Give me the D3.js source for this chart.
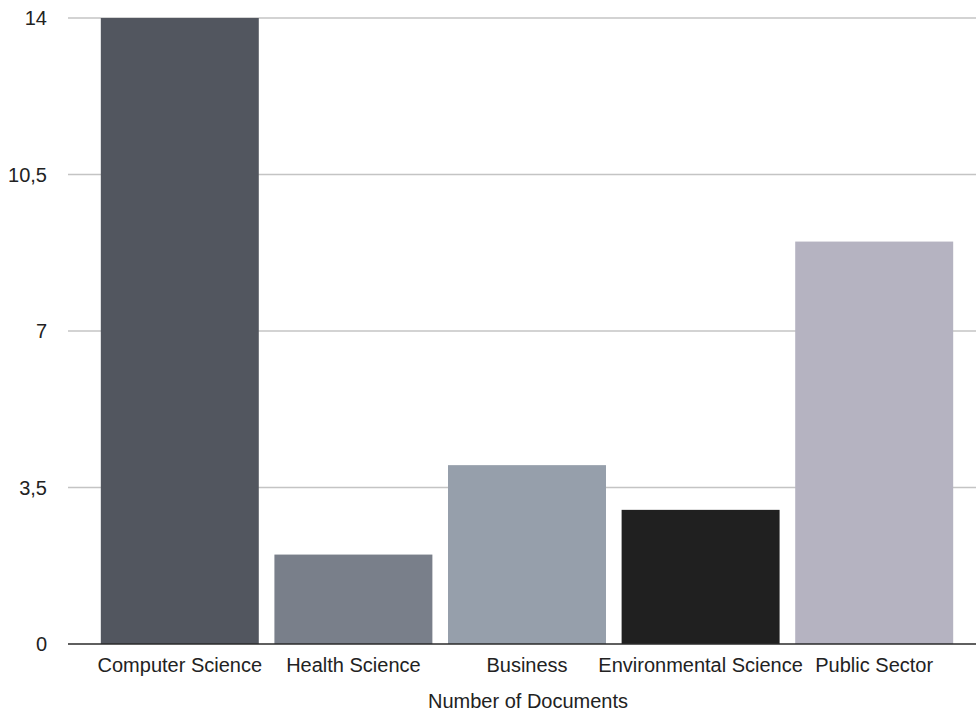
<!DOCTYPE html>
<html>
<head>
<meta charset="utf-8">
<script src="https://cdn.jsdelivr.net/npm/d3@7"></script>
<style>
  html, body { margin: 0; padding: 0; background: #fff; }
  svg { display: block; }
  text { font-family: "Liberation Sans", Arial, Helvetica, sans-serif; fill: #222; }
</style>
</head>
<body>
<svg id="chart" width="976" height="717"></svg>
<script>
const categories = ["Computer Science", "Health Science", "Business", "Environmental Science", "Public Sector"];
const values = [14, 2, 4, 3, 9];
const colors = ["#52565f", "#797f8a", "#969fab", "#202020", "#b5b3c1"];
const yTicks = [0, 3.5, 7, 10.5, 14];
const yTickLabels = ["0", "3,5", "7", "10,5", "14"];
const xTitle = "Number of Documents";

const svg = d3.select("#chart");
const plotLeft = 68, plotRight = 976;
const y = d3.scaleLinear().domain([0, 14]).range([644, 18]);
const x = d3.scaleBand().domain(categories).range([93, 961]).paddingInner(0.09).paddingOuter(0.045);

// gridlines
svg.append("g").selectAll("line")
  .data(yTicks.filter(t => t !== 0))
  .join("line")
  .attr("x1", plotLeft).attr("x2", plotRight)
  .attr("y1", d => y(d)).attr("y2", d => y(d))
  .attr("stroke", "#c4c4c4").attr("stroke-width", 1.3);

// y tick labels
svg.append("g").selectAll("text")
  .data(yTicks)
  .join("text")
  .attr("x", 47).attr("y", d => y(d))
  .attr("dy", "0.36em")
  .attr("text-anchor", "end")
  .style("font-size", "20px")
  .text((d, i) => yTickLabels[i]);

// bars
svg.append("g").selectAll("rect")
  .data(categories)
  .join("rect")
  .attr("x", d => x(d))
  .attr("width", x.bandwidth())
  .attr("y", (d, i) => y(values[i]))
  .attr("height", (d, i) => y(0) - y(values[i]))
  .attr("fill", (d, i) => colors[i]);

// baseline
svg.append("line")
  .attr("x1", plotLeft).attr("x2", plotRight)
  .attr("y1", y(0)).attr("y2", y(0))
  .attr("stroke", "#2a2a2a").attr("stroke-width", 1.5);

// category labels
svg.append("g").selectAll("text")
  .data(categories)
  .join("text")
  .attr("x", d => x(d) + x.bandwidth() / 2)
  .attr("y", 672)
  .attr("text-anchor", "middle")
  .style("font-size", "20px")
  .text(d => d);

// x title
svg.append("text")
  .attr("x", 528).attr("y", 708)
  .attr("text-anchor", "middle")
  .style("font-size", "20px")
  .text(xTitle);
</script>
</body>
</html>
